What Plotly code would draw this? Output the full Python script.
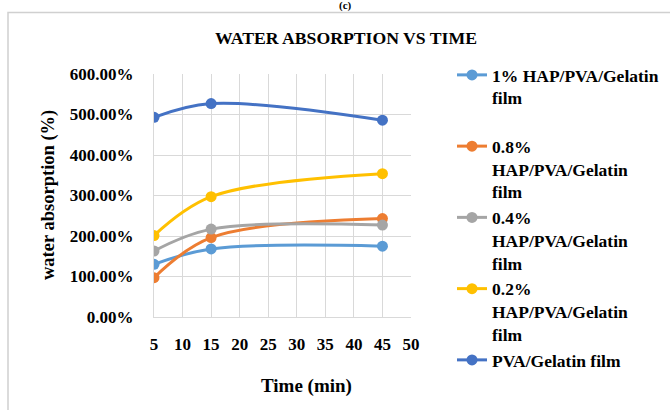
import plotly.graph_objects as go

time_min = [5, 15, 45]
series_names = [
    "1% HAP/PVA/Gelatin<br>film<br> ",
    "0.8%<br>HAP/PVA/Gelatin<br>film",
    "0.4%<br>HAP/PVA/Gelatin<br>film",
    "0.2%<br>HAP/PVA/Gelatin<br>film",
    "PVA/Gelatin film",
]
hap_1 = [1.30, 1.68, 1.75]
hap_08 = [0.97, 1.96, 2.43]
hap_04 = [1.63, 2.17, 2.27]
hap_02 = [2.01, 2.97, 3.54]
pva_gel = [4.93, 5.27, 4.86]
series_values = [hap_1, hap_08, hap_04, hap_02, pva_gel]
colors = ["#5B9BD5", "#ED7D31", "#A5A5A5", "#FFC000", "#4472C4"]
x_ticks = [5, 10, 15, 20, 25, 30, 35, 40, 45, 50]
y_ticks = [0, 1, 2, 3, 4, 5, 6]
y_ticklabels = ["0.00%", "100.00%", "200.00%", "300.00%", "400.00%", "500.00%", "600.00%"]

W, H = 670, 410
L, R, T, B = 154, 411, 73.7, 317.3

def px_x(px):
    return (px - L) / (R - L)

def px_y(py):
    return (B - py) / (B - T)

FONT = "Liberation Serif, Times New Roman, DejaVu Serif, serif"

fig = go.Figure()
for i, (name, vals, col) in enumerate(zip(series_names, series_values, colors)):
    fig.add_trace(go.Scatter(
        x=time_min, y=vals, name="<b>" + name.replace("<br>", "</b><br><b>") + "</b>",
        mode="lines+markers",
        line=dict(color=col, width=3, shape="spline", smoothing=1),
        marker=dict(color=col, size=11),
        legendgroup=str(i),
    ))

grid = "#D9D9D9"
fig.update_layout(
    width=W, height=H,
    margin=dict(l=L, r=W - R, t=T, b=H - B),
    paper_bgcolor="white", plot_bgcolor="white",
    font=dict(family=FONT, color="black"),
    showlegend=True,
    legend=dict(
        xref="container", yref="container",
        x=452 / W, y=1 - 57 / H, xanchor="left", yanchor="top",
        font=dict(family=FONT, size=17.5, color="black"),
        valign="top", tracegroupgap=0, itemwidth=30,
        bgcolor="rgba(0,0,0,0)", maxheight=400,
    ),
    title=dict(
        text="<b>WATER ABSORPTION VS TIME</b>",
        xref="container", yref="container",
        x=346 / W, y=1 - 38 / H, xanchor="center", yanchor="middle",
        font=dict(family=FONT, size=17.7, color="black"),
    ),
)
fig.update_xaxes(
    range=[5, 50], tickmode="array", tickvals=x_ticks,
    ticktext=["<b>%d</b>" % v for v in x_ticks],
    tickfont=dict(family=FONT, size=17, color="black"),
    showgrid=True, gridcolor=grid, gridwidth=1,
    showline=True, linecolor=grid, linewidth=1,
    zeroline=False, ticks="", ticklabelstandoff=12,
)
fig.update_yaxes(
    range=[0, 6], tickmode="array", tickvals=y_ticks,
    ticktext=["<b>%s</b>" % t for t in y_ticklabels],
    tickfont=dict(family=FONT, size=17, color="black"),
    showgrid=True, gridcolor=grid, gridwidth=1,
    showline=True, linecolor=grid, linewidth=1,
    zeroline=False, ticks="", ticklabelstandoff=16,
)
fig.add_annotation(
    text="<b>water absorption (%)</b>", textangle=-90,
    xref="paper", yref="paper", x=px_x(48), y=px_y(195),
    xanchor="center", yanchor="middle", showarrow=False,
    font=dict(family=FONT, size=18.5, color="black"),
)
fig.add_annotation(
    text="<b>Time (min)</b>",
    xref="paper", yref="paper", x=px_x(306), y=px_y(386),
    xanchor="center", yanchor="middle", showarrow=False,
    font=dict(family=FONT, size=19, color="black"),
)
fig.add_annotation(
    text="<b>(c)</b>",
    xref="paper", yref="paper", x=px_x(345), y=px_y(5),
    xanchor="center", yanchor="middle", showarrow=False,
    font=dict(family=FONT, size=11, color="black"),
)
fig.add_shape(
    type="rect", xref="paper", yref="paper",
    x0=px_x(8), x1=px_x(700), y0=px_y(460), y1=px_y(12),
    line=dict(color="#D0D0D0", width=1.5), fillcolor="rgba(0,0,0,0)", layer="below",
)

fig.write_html("out.html")
